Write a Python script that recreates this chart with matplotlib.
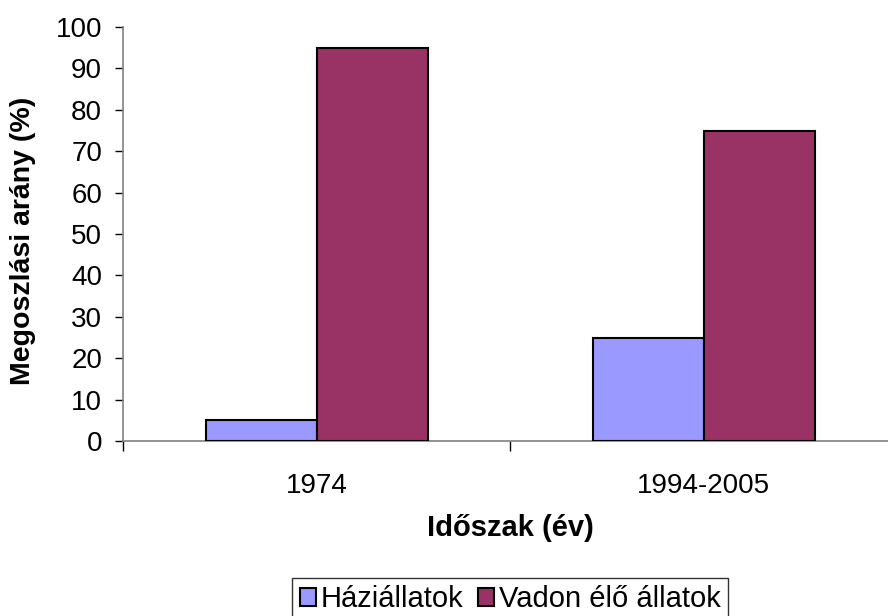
import numpy as np
import matplotlib.pyplot as plt
from matplotlib.patches import Patch

# data
periods = ["1974", "1994-2005"]
hazi = [5, 25]
vadon = [95, 75]
series_names = ["Háziállatok", "Vadon élő állatok"]

plt.rcParams['font.family'] = ['Liberation Sans', 'DejaVu Sans']

fig = plt.figure(figsize=(8.88, 6.16), dpi=100)
# the plot area runs past the right edge, like the original
ax = fig.add_axes([123/888, 1 - 441/616, 774/888, 414/616])

x = np.arange(len(periods)) + 0.5
w = 111/387
ax.bar(x - w/2, hazi, w, color="#9999FF", edgecolor="black", linewidth=1.5, zorder=3)
ax.bar(x + w/2, vadon, w, color="#993366", edgecolor="black", linewidth=1.5, zorder=3)

ax.set_xlim(0, 2)
ax.set_ylim(0, 100)
ax.set_yticks(range(0, 101, 10))
ax.set_xticks([0, 1, 2])
ax.set_xticklabels([])
ax.set_xticks(x, minor=True)
ax.set_xticklabels(periods, minor=True)
ax.tick_params(axis='x', which='minor', length=0, pad=23, labelsize=20)
ax.tick_params(axis='x', which='major', length=7, width=1, color="black")
ax.tick_params(axis='y', length=6, width=1, labelsize=20, pad=9)

for s in ["top", "right"]:
    ax.spines[s].set_visible(False)
ax.spines["left"].set_color("#808080")
ax.spines["bottom"].set_color("#808080")
ax.spines["left"].set_linewidth(1.2)
ax.spines["bottom"].set_linewidth(1.2)

fig.text(23/888, 1 - 241/616, "Megoszlási arány (%)", fontsize=20.5, fontweight="bold",
         rotation=90, ha="center", va="center")
fig.text(510/888, 1 - 528/616, "Időszak (év)", fontsize=21, fontweight="bold",
         ha="center", va="center")

handles = [Patch(facecolor="#9999FF", edgecolor="black", linewidth=1.5),
           Patch(facecolor="#993366", edgecolor="black", linewidth=1.5)]
leg = fig.legend(handles, series_names, loc="upper center", bbox_to_anchor=(510/888, 1 - 578/616),
                 ncol=2, fontsize=21, frameon=True, fancybox=False, edgecolor="black",
                 handlelength=0.55, handleheight=0.55, handletextpad=0.17, columnspacing=0.5,
                 borderpad=0.25, borderaxespad=0)
leg.get_frame().set_linewidth(1.0)

fig.savefig("out.png", dpi=100)
